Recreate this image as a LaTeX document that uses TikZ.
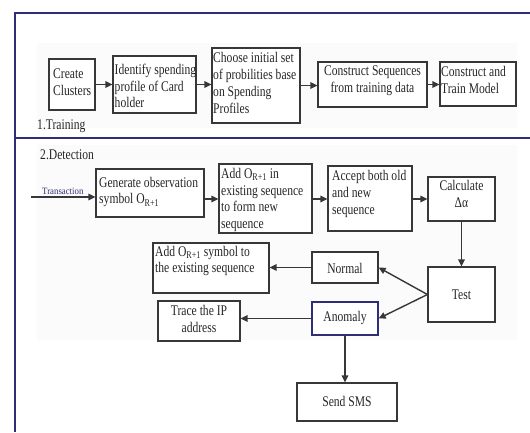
\documentclass[tikz,border=0pt]{standalone}
\usepackage{fontspec}
\setmainfont{Liberation Serif}
\usetikzlibrary{arrows.meta}
\definecolor{navy}{RGB}{45,45,120}
\definecolor{boxline}{RGB}{55,55,55}
\definecolor{tint}{RGB}{251,251,251}
\begin{document}
\begin{tikzpicture}[x=1pt,y=-1pt,
  box/.style={draw=boxline, line width=1.2pt, fill=white, inner sep=0pt},
  txt/.style={inner sep=0pt, yscale=1.27, font=\fontsize{11.6}{13.2}\selectfont, text=black!85},
  ltxt/.style={txt, align=left, anchor=west},
  ctxt/.style={txt, align=center},
  arr/.style={draw=boxline, line width=1.4pt, -{Triangle[length=7pt,width=6.5pt]}},
  frameline/.style={draw=navy, line width=1.5pt}]
\useasboundingbox (0,0) rectangle (530,432);
\fill[white] (0,0) rectangle (530,432);
% faint background tints
\fill[tint] (37,43) rectangle (517,128);
\fill[tint] (37,145) rectangle (517,340);
% frame
\draw[frameline] (530,13) -- (15,13) -- (15,432);
\draw[frameline] (15,138) -- (530,138);
% section titles
\node[ltxt] (ttrain) at (37,126) {1.Training};
\node[ltxt] (tdetect) at (40,155) {2.Detection};
% training boxes
\node[box, minimum width=46pt, minimum height=51pt] (cc) at (72,84.5) {};
\node[box, minimum width=83pt, minimum height=57pt] (id) at (154.5,84.5) {};
\node[box, minimum width=88pt, minimum height=75pt] (ch) at (256,85.5) {};
\node[box, minimum width=109pt, minimum height=45pt] (cs) at (372.5,84.5) {};
\node[box, minimum width=76pt, minimum height=44pt] (ct) at (478,84) {};
\node[ltxt] at (53,82) {Create\\Clusters};
\node[ltxt] at (114.5,86) {Identify spending\\profile of Card\\holder};
\node[ltxt] at (213,83) {Choose initial set\\of probilities base\\on Spending\\Profiles};
\node[ctxt] at (372.5,80.5) {Construct Sequences\\from training data};
\node[ltxt] at (441,80) {Construct and\\Train Model};
\draw[arr] (cc.east) -- (cc.east -| id.west);
\draw[arr] (id.east) -- (id.east -| ch.west);
\draw[arr] (ch.east) -- (ch.east -| cs.west);
\draw[arr] (cs.east) -- (cs.east -| ct.west);
% detection boxes
\node[box, minimum width=108pt, minimum height=48pt] (gen) at (150,193) {};
\node[box, minimum width=93pt, minimum height=69pt] (add) at (265.5,198.5) {};
\node[box, minimum width=84pt, minimum height=65pt] (acc) at (370,198.5) {};
\node[box, minimum width=67pt, minimum height=44pt] (calc) at (461.5,199) {};
\node[box, minimum width=67pt, minimum height=55pt] (test) at (461.5,294.5) {};
\node[box, minimum width=66pt, minimum height=31pt] (norm) at (345,267.5) {};
\node[box, draw=navy, minimum width=66pt, minimum height=33pt] (anom) at (345,318.5) {};
\node[box, minimum width=116pt, minimum height=50pt] (addsym) at (211,268) {};
\node[box, minimum width=82pt, minimum height=40pt] (trace) at (199,321) {};
\node[box, minimum width=100pt, minimum height=38pt] (sms) at (347,402) {};
\node[ltxt] at (99,192) {Generate observation\\symbol O\textsubscript{R+1}};
\node[ltxt] at (221,200) {Add O\textsubscript{R+1} in\\existing sequence\\to form new\\sequence};
\node[ltxt] at (332,194) {Accept both old\\and new\\sequence};
\node[ctxt] at (461.5,194) {Calculate\\Δα};
\node[ctxt] at (461.5,295) {Test};
\node[ctxt] at (345,268) {Normal};
\node[ctxt] at (345,318) {Anomaly};
\node[ltxt] at (155,261) {Add O\textsubscript{R+1} symbol to\\the existing sequence};
\node[ctxt] at (199,319) {Trace the IP\\address};
\node[ctxt] at (347,401) {Send SMS};
% transaction input
\coordinate (tin) at (31,197);
\node[inner sep=0pt, anchor=west, yscale=1.1, font=\fontsize{8.8}{10}\selectfont, text=navy] (tlabel) at (42,191) {Transaction};
\draw[arr] (tin) -- (tin -| gen.west);
% detection connectors
\draw[arr] (gen.east |- 0,199) -- (add.west |- 0,199);
\draw[arr] (add.east |- 0,199) -- (acc.west |- 0,199);
\draw[arr] (acc.east |- 0,199) -- (calc.west |- 0,199);
\draw[arr] (calc.south) -- (test.north);
\draw[arr] (test.west) -- (norm.east);
\draw[arr] (test.west) -- (anom.east);
\draw[arr] (norm.west) -- (norm.west -| addsym.east);
\draw[arr] (anom.west) -- (anom.west -| trace.east);
\draw[arr] (anom.south) -- (anom.south |- sms.north);
\end{tikzpicture}
\end{document}
